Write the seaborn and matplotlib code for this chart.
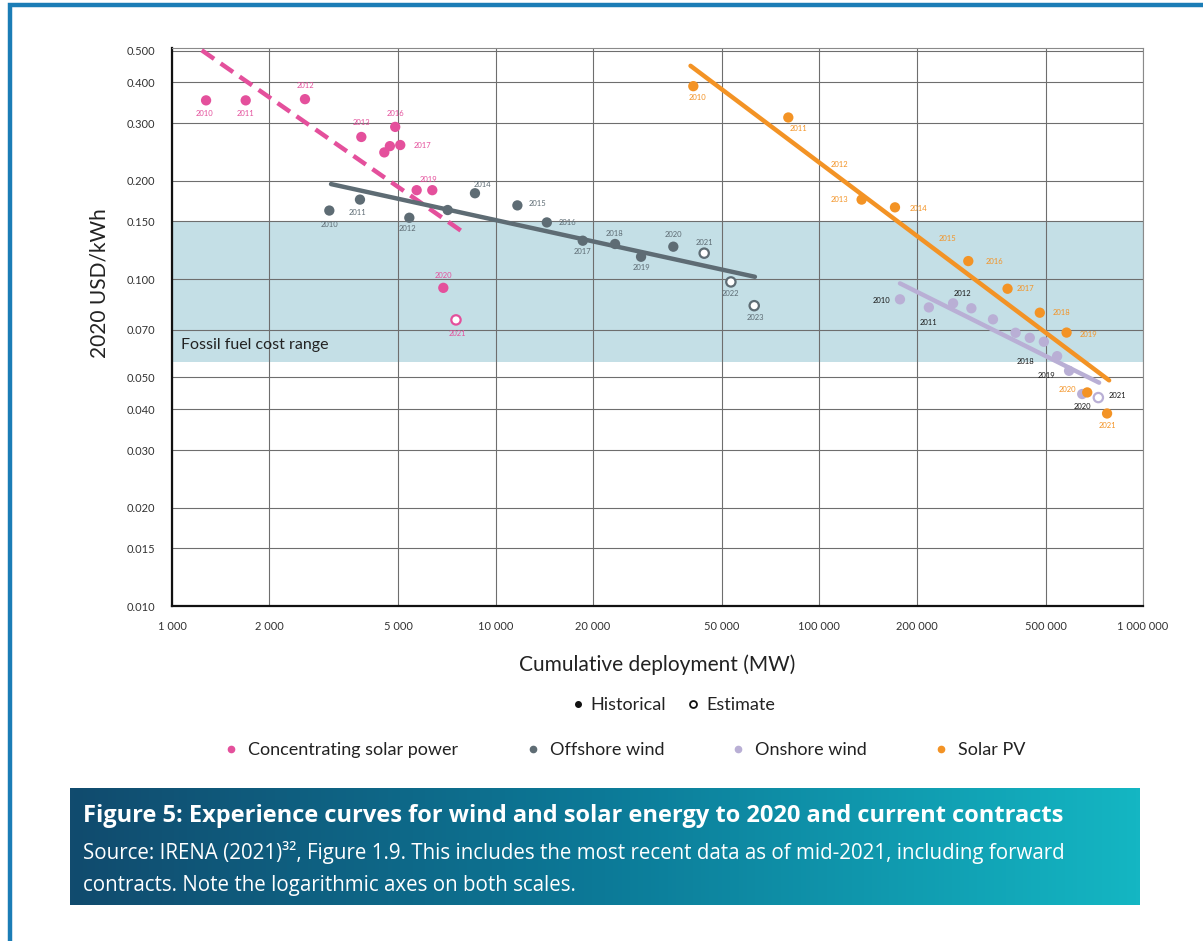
import numpy as np
import pandas as pd
import matplotlib
matplotlib.use("Agg")
import matplotlib.pyplot as plt
import seaborn as sns
from matplotlib.lines import Line2D
from matplotlib.patches import Rectangle
from matplotlib.colors import LinearSegmentedColormap
from matplotlib.ticker import FuncFormatter, NullLocator

# ---- data (cumulative MW, 2020 USD/kWh) ----
techs = ["Concentrating solar power", "Offshore wind", "Onshore wind", "Solar PV"]

csp_years = list(range(2010, 2022))
csp_mw = [1274, 1689, 2575, 3845, 4528, 4711, 4893, 5072, 5700, 6370, 6890, 7540]
csp_cost = [0.352, 0.352, 0.355, 0.272, 0.244, 0.255, 0.292, 0.257, 0.187, 0.187, 0.094, 0.075]
csp_estimate = [2021]

off_years = list(range(2010, 2024))
off_mw = [3062, 3808, 5410, 7107, 8630, 11670, 14390, 18580, 23380, 28130, 35390, 44080, 53300, 62930]
off_cost = [0.162, 0.175, 0.154, 0.1626, 0.183, 0.168, 0.149, 0.131, 0.128, 0.117, 0.1256, 0.120, 0.098, 0.0829]
off_estimate = [2021, 2022, 2023]

on_years = list(range(2010, 2022))
on_mw = [177500, 218000, 259000, 295000, 344000, 404000, 447000, 494000, 543000, 591000, 649000, 728000]
on_cost = [0.0867, 0.0819, 0.0843, 0.0814, 0.0753, 0.0685, 0.0661, 0.0643, 0.0581, 0.0524, 0.0445, 0.0434]
on_estimate = [2021]

pv_years = list(range(2010, 2022))
pv_mw = [40800, 80200, 104000, 135100, 171300, 216600, 288600, 381600, 480000, 580700, 672600, 774600]
pv_cost = [0.389, 0.312, 0.220, 0.175, 0.1657, 0.129, 0.1135, 0.0934, 0.0789, 0.0686, 0.045, 0.0388]
pv_estimate = []
pv_hidden = [2012, 2015]  # these dots sit under the trend line

# experience-curve trend lines (end points)
csp_trend_mw = [1235, 7810]
csp_trend_cost = [0.501, 0.1406]
off_trend_mw = [3099, 63240]
off_trend_cost = [0.1952, 0.1016]
on_trend_mw = [177500, 732000]
on_trend_cost = [0.097, 0.0482]
pv_trend_mw = [40000, 786000]
pv_trend_cost = [0.449, 0.049]

fossil_low, fossil_high = 0.0557, 0.150

x_ticks = [1000, 2000, 5000, 10000, 20000, 50000, 100000, 200000, 500000, 1000000]
y_ticks = [0.010, 0.015, 0.020, 0.030, 0.040, 0.050, 0.070, 0.100, 0.150, 0.200, 0.300, 0.400, 0.500]

colors = {
    "Concentrating solar power": "#E4509C",
    "Offshore wind": "#5E6C74",
    "Onshore wind": "#B9AFD5",
    "Solar PV": "#F39325",
}
label_colors = {
    "Concentrating solar power": "#E4509C",
    "Offshore wind": "#5E6C74",
    "Onshore wind": "#1A1A1A",
    "Solar PV": "#F39325",
}

# year labels: (tech, year, dx px, dy px)
year_labels = [
    ("Concentrating solar power", 2010, -2, -13), ("Concentrating solar power", 2011, 0, -13),
    ("Concentrating solar power", 2012, 0, 14), ("Concentrating solar power", 2013, 0, 14),
    ("Concentrating solar power", 2016, 0, 13), ("Concentrating solar power", 2017, 22, 0),
    ("Concentrating solar power", 2019, -4, 11), ("Concentrating solar power", 2020, 0, 12),
    ("Concentrating solar power", 2021, 1, -14),
    ("Offshore wind", 2010, 0, -14), ("Offshore wind", 2011, -2, -13), ("Offshore wind", 2012, -2, -11),
    ("Offshore wind", 2014, 8, 9), ("Offshore wind", 2015, 20, 2), ("Offshore wind", 2016, 21, 0),
    ("Offshore wind", 2017, 0, -11), ("Offshore wind", 2018, -1, 11), ("Offshore wind", 2019, 0, -11),
    ("Offshore wind", 2020, 0, 12), ("Offshore wind", 2021, 0, 11), ("Offshore wind", 2022, 0, -12),
    ("Offshore wind", 2023, 1, -12),
    ("Solar PV", 2010, 4, -11), ("Solar PV", 2011, 10, -11), ("Solar PV", 2012, 15, 3),
    ("Solar PV", 2013, -22, 0), ("Solar PV", 2014, 23, -1), ("Solar PV", 2015, 20, 4),
    ("Solar PV", 2016, 26, 0), ("Solar PV", 2017, 18, 0), ("Solar PV", 2018, 22, 0),
    ("Solar PV", 2019, 22, -2), ("Solar PV", 2020, -20, 3), ("Solar PV", 2021, 0, -12),
    ("Onshore wind", 2010, -19, -1), ("Onshore wind", 2011, 0, -15), ("Onshore wind", 2012, 9, 10),
    ("Onshore wind", 2018, -32, -5), ("Onshore wind", 2019, -23, -5), ("Onshore wind", 2020, 0, -12),
    ("Onshore wind", 2021, 19, 2),
]


def make_frame(tech, years, mw, cost, estimate):
    return pd.DataFrame({
        "tech": tech, "year": years, "mw": mw, "cost": cost,
        "kind": ["Estimate" if y in estimate else "Historical" for y in years],
    })


points = pd.concat([
    make_frame(techs[0], csp_years, csp_mw, csp_cost, csp_estimate),
    make_frame(techs[1], off_years, off_mw, off_cost, off_estimate),
    make_frame(techs[2], on_years, on_mw, on_cost, on_estimate),
    make_frame(techs[3], pv_years, pv_mw, pv_cost, pv_estimate),
], ignore_index=True)

trend = pd.concat([
    pd.DataFrame({"tech": techs[0], "mw": csp_trend_mw, "cost": csp_trend_cost}),
    pd.DataFrame({"tech": techs[1], "mw": off_trend_mw, "cost": off_trend_cost}),
    pd.DataFrame({"tech": techs[2], "mw": on_trend_mw, "cost": on_trend_cost}),
    pd.DataFrame({"tech": techs[3], "mw": pv_trend_mw, "cost": pv_trend_cost}),
], ignore_index=True)

# ---- figure ----
sns.set_style("white")
plt.rcParams["font.family"] = ["Lato", "DejaVu Sans"]

fig = plt.figure(figsize=(12.03, 9.41), dpi=100)
ax = fig.add_axes([0.1430, 0.3560, 0.8071, 0.5930])
ax.set_xscale("log")
ax.set_yscale("log")

ax.axhspan(fossil_low, fossil_high, color="#C4DFE6", zorder=0, lw=0)
ax.text(0.009, 0.0628, "Fossil fuel cost range", transform=ax.get_yaxis_transform(),
        fontsize=11.5, color="#222222", va="center", ha="left")

sns.lineplot(data=trend, x="mw", y="cost", hue="tech", style="tech", palette=colors,
             dashes={techs[0]: (3.4, 1.8), techs[1]: "", techs[2]: "", techs[3]: ""},
             linewidth=3.2, estimator=None, legend=False, ax=ax, zorder=3)

hidden = (points["tech"] == "Solar PV") & points["year"].isin(pv_hidden)
hist = points[(points["kind"] == "Historical") & ~hidden]
est = points[points["kind"] == "Estimate"]

sns.scatterplot(data=hist, x="mw", y="cost", hue="tech", palette=colors, s=55,
                linewidth=0, legend=False, ax=ax, zorder=4)
sns.scatterplot(data=est, x="mw", y="cost", hue="tech", palette=colors, s=45,
                legend=False, ax=ax, zorder=4)
est_pts = ax.collections[-1]
est_pts.set_edgecolors(est_pts.get_facecolors())
est_pts.set_facecolors("white")
est_pts.set_linewidths(1.6)

for tech, year, dx, dy in year_labels:
    row = points[(points["tech"] == tech) & (points["year"] == year)].iloc[0]
    ax.annotate(str(year), (row["mw"], row["cost"]), xytext=(dx * 0.72, dy * 0.72),
                textcoords="offset points", ha="center", va="center", fontsize=5.5,
                color=label_colors[tech], zorder=5)

ax.set_xlim(1000, 1000000)
ax.set_ylim(0.01, 0.509)
ax.set_xticks(x_ticks)
ax.set_yticks(y_ticks)
ax.xaxis.set_minor_locator(NullLocator())
ax.yaxis.set_minor_locator(NullLocator())
ax.xaxis.set_major_formatter(FuncFormatter(lambda v, p: f"{int(round(v)):,}".replace(",", " ")))
ax.yaxis.set_major_formatter(FuncFormatter(lambda v, p: f"{v:.3f}"))
ax.tick_params(axis="both", length=0, labelsize=8, colors="#333333")
ax.tick_params(axis="x", pad=11)
ax.tick_params(axis="y", pad=12)
ax.grid(True, color="#6E6E6E", linewidth=0.8)
ax.set_axisbelow(True)
for side in ["left", "bottom"]:
    ax.spines[side].set_color("#111111")
    ax.spines[side].set_linewidth(1.6)
for side in ["top", "right"]:
    ax.spines[side].set_color("#8A8A8A")
    ax.spines[side].set_linewidth(0.8)

ax.set_xlabel("Cumulative deployment (MW)", fontsize=15, color="#222222", labelpad=16)
ax.set_ylabel("")
fig.text(100 / 1203, 1 - 283 / 941, "2020 USD/kWh", rotation=90, fontsize=15,
         color="#222222", ha="center", va="center")

# ---- legends ----
kind_handles = [
    Line2D([], [], marker="o", ls="", color="#111111", markersize=4, label="Historical"),
    Line2D([], [], marker="o", ls="", mfc="white", mec="#111111", mew=1.3, markersize=5, label="Estimate"),
]
fig.legend(handles=kind_handles, loc="center", bbox_to_anchor=(672 / 1203, 1 - 705 / 941),
           ncol=2, frameon=False, fontsize=13, handletextpad=0.2, columnspacing=1.0,
           handlelength=1.0, labelcolor="#222222")

tech_handles = [Line2D([], [], marker="o", ls="", color=colors[t], markersize=4.5, label=t) for t in techs]
fig.legend(handles=tech_handles, loc="center", bbox_to_anchor=(624 / 1203, 1 - 750 / 941),
           ncol=4, frameon=False, fontsize=13, handletextpad=0.45, columnspacing=3.6,
           handlelength=1.0, labelcolor="#222222")

# ---- caption box ----
cap = fig.add_axes([70 / 1203, 1 - 905 / 941, 1070 / 1203, 117 / 941])
cmap = LinearSegmentedColormap.from_list("cap", ["#114B6E", "#0C7A98", "#14B6C3"])
cap.imshow(np.linspace(0, 1, 256).reshape(1, -1), aspect="auto", cmap=cmap, extent=[0, 1, 0, 1])
cap.axis("off")

fig.text(83 / 1203, 1 - 816 / 941,
         "Figure 5: Experience curves for wind and solar energy to 2020 and current contracts",
         color="white", fontsize=17, fontweight="bold", va="center", ha="left",
         family=["Open Sans", "DejaVu Sans"])
fig.text(83 / 1203, 1 - 852 / 941,
         "Source: IRENA (2021)\u00b3\u00b2, Figure 1.9. This includes the most recent data as of mid-2021, including forward",
         color="white", fontsize=14.8, va="center", ha="left", family=["Open Sans", "DejaVu Sans"])
fig.text(83 / 1203, 1 - 885 / 941, "contracts. Note the logarithmic axes on both scales.",
         color="white", fontsize=14.8, va="center", ha="left", family=["Open Sans", "DejaVu Sans"])

# outer page frame (top and left edges)
fig.add_artist(Rectangle((10 / 1203, -0.1), 1.2, 0.1 + 1 - 5 / 941, fill=False,
                         edgecolor="#1B7DB6", linewidth=3.2, transform=fig.transFigure))

fig.savefig("out.png", dpi=100)
